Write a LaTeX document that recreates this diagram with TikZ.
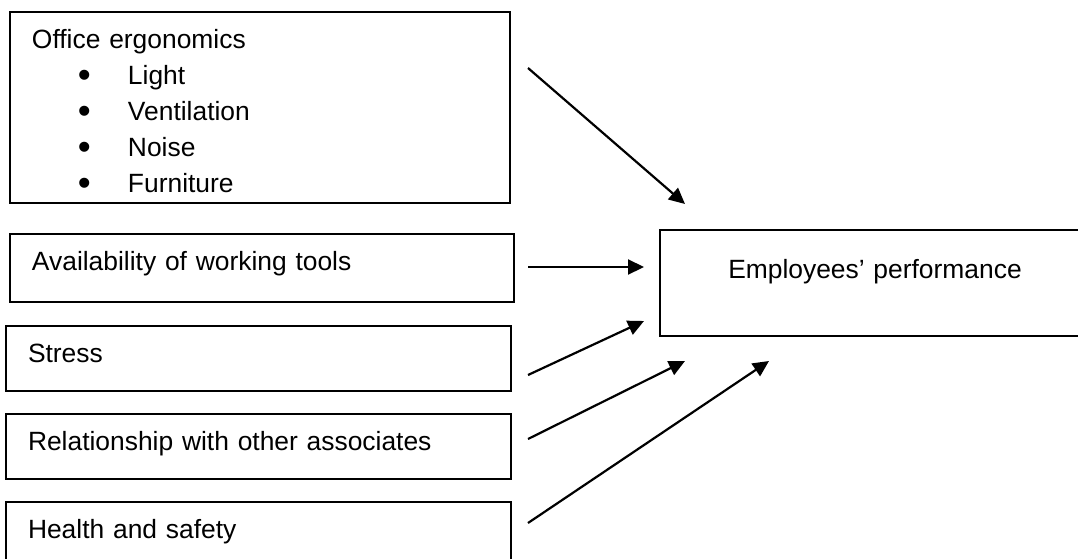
\documentclass[tikz,border=0pt]{standalone}
\usepackage{fontspec}
\setmainfont{Liberation Sans}
\usetikzlibrary{positioning, shapes, arrows.meta}

\newcommand{\bitem}[1]{\hspace*{23pt}\makebox[25pt][l]{\raisebox{-1.5pt}{\scalebox{1.4}{\textbullet}}}#1}

\tikzset{
  factor/.style={draw, line width=1pt, rectangle, anchor=north west, align=left,
    inner xsep=11pt, inner ysep=0pt, text height=18pt, font=\fontsize{13.2}{18}\selectfont},
  link/.style={->, line width=1.1pt}
}

\begin{document}
\begin{tikzpicture}[x=0.5pt, y=-0.5pt, >={Triangle[length=8pt, width=7.5pt]}]
\useasboundingbox (0,0) rectangle (1078,558);

%Factors
\node (ergo) at (9,11) [factor, text width=228pt, text depth=77.5pt] {Office ergonomics\\
  \bitem{Light}\\ \bitem{Ventilation}\\ \bitem{Noise}\\ \bitem{Furniture}};
\node (tools) at (9,233) [factor, text width=230pt, text depth=16pt] {Availability of working tools};
\node (stress) at (5,325) [factor, text width=230.5pt, text depth=14.5pt] {Stress};
\node (assoc) at (5,413) [factor, text width=230.5pt, text depth=14.5pt] {Relationship with other associates};
\node (health) at (5,501) [factor, text width=230.5pt, text depth=15pt] {Health and safety};

%Outcome
\node (perf) at (659,229) [factor, align=center, text width=193pt, text height=24pt, text depth=29pt] {Employees’ performance};

%Arrow ends
\coordinate (s1) at (528,68);  \coordinate (e1) at (685,204);
\coordinate (s2) at (528,267); \coordinate (e2) at (644,267);
\coordinate (s3) at (528,375); \coordinate (e3) at (644,321);
\coordinate (s4) at (528,439); \coordinate (e4) at (685,361);
\coordinate (s5) at (528,523); \coordinate (e5) at (769,361);

\draw[link] (s1) -- (e1);
\draw[link] (s2) -- (e2);
\draw[link] (s3) -- (e3);
\draw[link] (s4) -- (e4);
\draw[link] (s5) -- (e5);
\end{tikzpicture}
\end{document}
